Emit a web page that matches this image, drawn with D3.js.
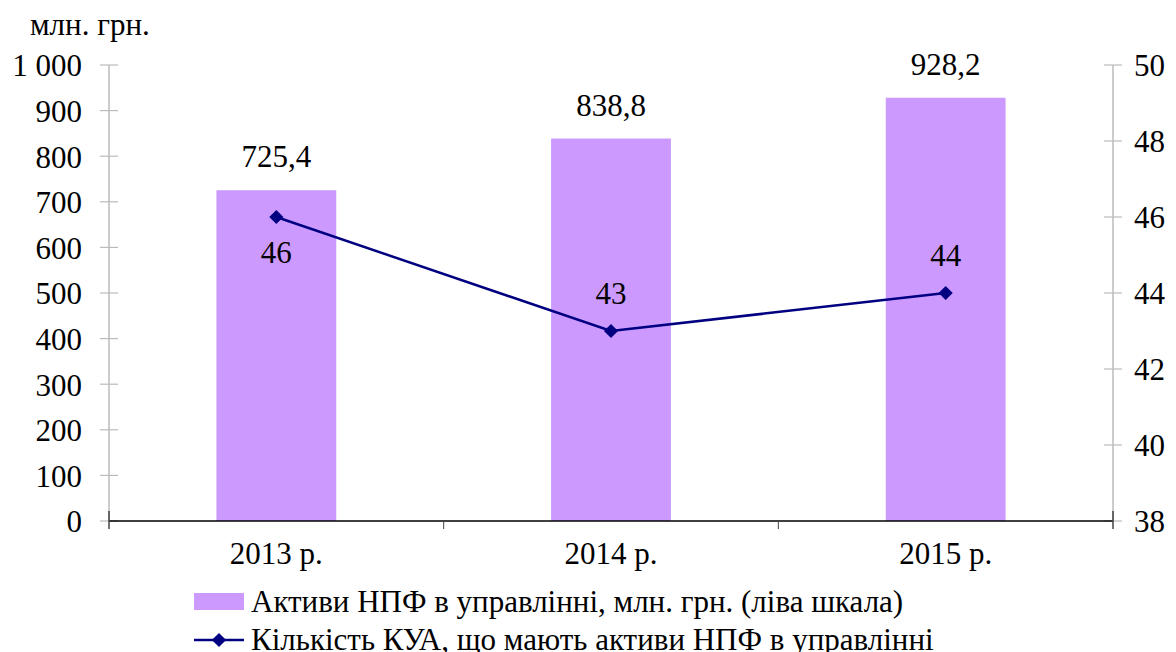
<!DOCTYPE html>
<html>
<head>
<meta charset="utf-8">
<script src="https://cdn.jsdelivr.net/npm/d3@7"></script>
</head>
<body style="margin:0">
<script>
var years = ["2013 р.", "2014 р.", "2015 р."];
var assets = [725.4, 838.8, 928.2];
var assetLabels = ["725,4", "838,8", "928,2"];
var kua = [46, 43, 44];
var kuaLabelPos = ["below", "above", "above"];
var leftTicks = [0, 100, 200, 300, 400, 500, 600, 700, 800, 900, 1000];
var rightTicks = [38, 40, 42, 44, 46, 48, 50];
var legendNames = ["Активи НПФ в управлінні, млн. грн. (ліва шкала)",
                   "Кількість КУА, що мають активи НПФ в управлінні"];

var width = 1176, height = 652;
var pLeft = 109, pRight = 1113, pTop = 65, pBottom = 521;
var navy = "#000080", lilac = "#cc99ff";
var font = "'Liberation Serif'";

var svg = d3.select("body").append("svg")
    .attr("width", width)
    .attr("height", height);

var x = d3.scaleBand().domain(years).range([pLeft, pRight]).paddingInner(0.642).paddingOuter(0.321);
var yL = d3.scaleLinear().domain([0, 1000]).range([pBottom, pTop]);
var yR = d3.scaleLinear().domain([38, 50]).range([pBottom, pTop]);

var fmt = function(d) { return d >= 1000 ? "1 000" : d; };

// left axis
var gl = svg.append("g").attr("transform", "translate(" + pLeft + ",0)")
    .call(d3.axisLeft(yL).tickValues(leftTicks).tickSize(0).tickPadding(0).tickFormat(fmt));
gl.select(".domain").remove();
gl.selectAll("text").attr("x", -27).attr("dy", "0.35em");
svg.append("line").attr("x1", pLeft).attr("x2", pLeft).attr("y1", pTop).attr("y2", pBottom)
    .attr("stroke", "#bbb").attr("stroke-width", 1.5);
svg.selectAll(".ltick").data(leftTicks).enter().append("line")
    .attr("x1", pLeft - 9).attr("x2", pLeft + 9)
    .attr("y1", function(d) { return yL(d); }).attr("y2", function(d) { return yL(d); })
    .attr("stroke", "#bbb").attr("stroke-width", 1.2);

// right axis
var gr = svg.append("g").attr("transform", "translate(" + pRight + ",0)")
    .call(d3.axisRight(yR).tickValues(rightTicks).tickSize(0).tickPadding(0));
gr.select(".domain").remove();
gr.selectAll("text").attr("x", 21).attr("dy", "0.35em");
svg.append("line").attr("x1", pRight).attr("x2", pRight).attr("y1", pTop).attr("y2", pBottom)
    .attr("stroke", "#bbb").attr("stroke-width", 1.5);
svg.selectAll(".rtick").data(rightTicks).enter().append("line")
    .attr("x1", pRight - 9).attr("x2", pRight + 9)
    .attr("y1", function(d) { return yR(d); }).attr("y2", function(d) { return yR(d); })
    .attr("stroke", "#bbb").attr("stroke-width", 1.2);

// bars
svg.selectAll(".bar").data(assets).enter().append("rect")
    .attr("x", function(d, i) { return x(years[i]); })
    .attr("y", function(d) { return yL(d); })
    .attr("width", x.bandwidth())
    .attr("height", function(d) { return pBottom - yL(d); })
    .attr("fill", lilac);

svg.selectAll(".barlab").data(assets).enter().append("text")
    .attr("x", function(d, i) { return x(years[i]) + x.bandwidth() / 2; })
    .attr("y", function(d) { return yL(d) - 23; })
    .attr("text-anchor", "middle")
    .text(function(d, i) { return assetLabels[i]; });

// x axis
var step = (pRight - pLeft) / years.length;
svg.append("line").attr("x1", pLeft).attr("x2", pRight).attr("y1", pBottom).attr("y2", pBottom)
    .attr("stroke", "#000").attr("stroke-width", 1.5);
svg.append("line").attr("x1", pLeft).attr("x2", pLeft).attr("y1", pBottom - 10).attr("y2", pBottom + 8)
    .attr("stroke", "#444").attr("stroke-width", 1.5);
svg.append("line").attr("x1", pRight).attr("x2", pRight).attr("y1", pBottom - 10).attr("y2", pBottom + 8)
    .attr("stroke", "#444").attr("stroke-width", 1.5);
svg.selectAll(".xtick").data(d3.range(1, years.length)).enter().append("line")
    .attr("x1", function(d) { return pLeft + d * step; })
    .attr("x2", function(d) { return pLeft + d * step; })
    .attr("y1", pBottom).attr("y2", pBottom + 8)
    .attr("stroke", "#444").attr("stroke-width", 1);
svg.selectAll(".xlab").data(years).enter().append("text")
    .attr("x", function(d) { return x(d) + x.bandwidth() / 2; })
    .attr("y", pBottom + 43)
    .attr("text-anchor", "middle")
    .text(function(d) { return d; });

// line + diamonds
var cx = function(d, i) { return x(years[i]) + x.bandwidth() / 2; };
var line = d3.line().x(function(d, i) { return cx(d, i); }).y(function(d) { return yR(d); });
var diamond = d3.symbol(d3.symbolSquare, 100);
svg.append("path").datum(kua).attr("d", line)
    .attr("fill", "none").attr("stroke", navy).attr("stroke-width", 2.5);
svg.selectAll(".pt").data(kua).enter().append("path")
    .attr("d", diamond)
    .attr("transform", function(d, i) { return "translate(" + cx(d, i) + "," + yR(d) + ") rotate(45)"; })
    .attr("fill", navy);
svg.selectAll(".ptlab").data(kua).enter().append("text")
    .attr("x", function(d, i) { return cx(d, i); })
    .attr("y", function(d, i) { return kuaLabelPos[i] == "below" ? yR(d) + 46 : yR(d) - 27; })
    .attr("text-anchor", "middle")
    .text(function(d) { return d; });

// unit
svg.append("text").attr("x", 30).attr("y", 35).text("млн. грн.");

// legend
svg.append("rect").attr("x", 194).attr("y", 593).attr("width", 50).attr("height", 17).attr("fill", lilac);
svg.append("text").attr("x", 251).attr("y", 612).text(legendNames[0]);
svg.append("line").attr("x1", 194).attr("x2", 244).attr("y1", 640).attr("y2", 640)
    .attr("stroke", navy).attr("stroke-width", 2.5);
svg.append("path").attr("d", diamond)
    .attr("transform", "translate(219,640) rotate(45)").attr("fill", navy);
svg.append("text").attr("x", 251).attr("y", 650).text(legendNames[1]);

// fonts on every text
svg.selectAll("g").attr("font-family", null).attr("font-size", null);
svg.selectAll("text")
    .attr("font-family", font)
    .attr("font-size", 31)
    .attr("fill", "#000");
</script>
</body>
</html>
